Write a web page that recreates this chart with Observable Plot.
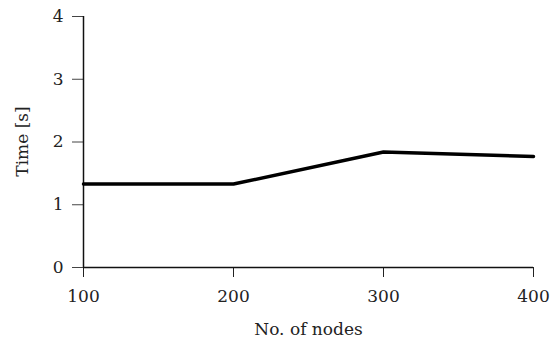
<!DOCTYPE html>
<html><head><meta charset="utf-8">
<script src="https://cdn.jsdelivr.net/npm/d3@7"></script>
<script src="https://cdn.jsdelivr.net/npm/@observablehq/plot@0.6"></script>
<style>body{margin:0;background:#fff}</style>
</head><body><div id="chart"></div>
<script>
const nodes = [100, 200, 300, 400];
const times = [1.33, 1.33, 1.84, 1.77];
const xTicks = [100, 200, 300, 400];
const yTicks = [0, 1, 2, 3, 4];
const data = nodes.map((n, i) => ({n, t: times[i]}));
const font = "'DejaVu Serif', serif";
const fs = 17;
const chart = Plot.plot({
  width: 557, height: 339,
  marginLeft: 83, marginRight: 24, marginTop: 16, marginBottom: 72,
  style: {fontFamily: font, fontSize: fs + "px", color: "#222", background: "#fff"},
  x: {domain: [100, 400]},
  y: {domain: [0, 4]},
  marks: [
    Plot.axisX({ticks: xTicks, tickSize: 10, tickPadding: 12, tickFormat: d => String(d), label: null, fontSize: fs, stroke: "#222"}),
    Plot.axisY({ticks: yTicks, tickSize: 11, tickPadding: 9, tickFormat: d => String(d), label: null, fontSize: fs, stroke: "#444"}),
    Plot.text(["No. of nodes"], {frameAnchor: "bottom", dy: 67, fontSize: fs, fill: "#222"}),
    Plot.ruleY([0], {stroke: "#111", strokeWidth: 1.5}),
    Plot.ruleX([100], {stroke: "#111", strokeWidth: 1.5}),
    Plot.line(data, {x: "n", y: "t", stroke: "#000", strokeWidth: 3.5, strokeLinejoin: "round"})
  ]
});
document.getElementById("chart").appendChild(chart);
const svg = d3.select(chart);
svg.append("text").attr("transform", "translate(22,141.5) rotate(-90)")
  .attr("text-anchor", "middle").attr("dy", "0.35em")
  .attr("font-family", font).attr("font-size", fs).attr("fill", "#222").text("Time [s]");
</script></body></html>
